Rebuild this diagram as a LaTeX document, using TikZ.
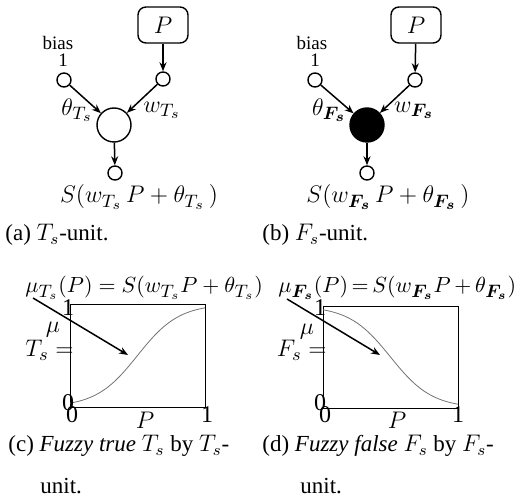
\documentclass[tikz,border=0pt]{standalone}
\usepackage{amsmath}
\usepackage{fontspec}
\setmainfont{Liberation Serif}
\usetikzlibrary{arrows.meta, positioning}
\DeclareMathSizes{12}{12}{9.5}{7}
\DeclareMathSizes{11.5}{11.5}{8.5}{6.5}
\DeclareMathSizes{11}{11}{8.7}{6.4}
\DeclareMathSizes{9.5}{9.5}{7}{5}
\newcommand{\bigfont}{\fontsize{12}{14}\selectfont}
\newcommand{\capfont}{\fontsize{11.5}{14}\selectfont}
\newcommand{\eqfont}{\fontsize{11}{13}\selectfont}
\newcommand{\tagfont}{\fontsize{9.5}{11}\selectfont}

\begin{document}
\begin{tikzpicture}[x=0.5pt, y=-0.5pt,
    dot/.style={circle, draw, line width=0.7pt, minimum size=7pt, inner sep=0pt},
    unit/.style={circle, draw, line width=0.7pt, minimum size=17pt, inner sep=0pt},
    inbox/.style={rectangle, rounded corners=4pt, draw, line width=0.7pt,
                  minimum width=25pt, minimum height=18pt, font=\bigfont},
    ar/.style={-{Stealth[length=4.5pt, width=3.5pt]}, line width=0.75pt},
    frame/.style={draw, line width=0.45pt},
    curve/.style={draw=black!55, line width=0.4pt},
    lbl/.style={inner sep=0pt, font=\bigfont},
    eqtext/.style={inner sep=0pt, anchor=west, font=\eqfont},
    captext/.style={inner sep=0pt, anchor=west, font=\capfont},
    tag/.style={inner sep=0pt, font=\tagfont}
]
\useasboundingbox (0,0) rectangle (519,502);

% (a) T_s-unit
\node[inbox] (pa) at (163,25) {$P$};
\node[dot] (ba) at (64,80) {};
\node[tag] (onea) at (63,60) {1};
\node[tag] (biasa) at (58,43) {bias};
\node[dot] (ia) at (163,79) {};
\node[unit] (ua) at (114,125) {};
\node[dot] (oa) at (115,173) {};
\draw[ar] (pa) -- (ia);
\draw[ar] (ba) -- (ua);
\draw[ar] (ia) -- (ua);
\draw[ar] (ua) -- (oa);
\node[lbl] (tha) at (77,110) {$\theta_{T_s}$};
\node[lbl] (wa) at (162,110) {$w_{T_s}$};
\node[lbl] (sa) at (139,197) {$S(w_{T_s}\,P + \theta_{T_s}\,)$};
\node[captext] (capa) at (5,235) {(a) $T_s$-unit.};

% (b) F_s-unit
\node[inbox] (pb) at (416,25) {$P$};
\node[dot] (bb) at (315,80) {};
\node[tag] (oneb) at (315,60) {1};
\node[tag] (biasb) at (312,43) {bias};
\node[dot] (ib) at (415,80) {};
\node[unit, fill=black] (ub) at (367,125) {};
\node[dot] (ob) at (367,173) {};
\draw[ar] (pb) -- (ib);
\draw[ar] (bb) -- (ub);
\draw[ar] (ib) -- (ub);
\draw[ar] (ub) -- (ob);
\node[lbl] (thb) at (329,110) {$\theta_{\boldsymbol{F_s}}$};
\node[lbl] (wb) at (414,110) {$w_{\boldsymbol{F_s}}$};
\node[lbl] (sb) at (388,197) {$S(w_{\boldsymbol{F_s}}\,P + \theta_{\boldsymbol{F_s}}\,)$};
\node[captext] (capb) at (262,235) {(b) $F_s$-unit.};

% (c) fuzzy true
\draw[frame] (70,304) rectangle (205,407);
\draw[curve] plot[domain=0:1, samples=60, smooth]
    ({70+135*\x}, {407-103/(1+exp(-6.5*(\x-0.5)))});
\node[eqtext] (lc) at (25,288) {$\mu_{T_s}(P) = S(w_{T_s}P + \theta_{T_s})$};
\coordinate (fromc) at (33,298);
\coordinate (toc) at (128,355);
\draw[ar] (fromc) -- (toc);
\node[lbl] (topc) at (68,308) {1};
\node[lbl] (muc) at (53,330) {$\mu$};
\node[lbl, anchor=east] (tsc) at (74,350) {$T_s =$};
\node[lbl] (zyc) at (68,403) {0};
\node[lbl] (zxc) at (72,415) {0};
\node[lbl] (pc) at (145,420) {$P$};
\node[lbl] (rc) at (207,415) {1};
\node[captext] (capc) at (8,446) {(c) \textit{Fuzzy true} $T_s$ by $T_s$-};
\node[captext] (capc2) at (40,486) {unit.};

% (d) fuzzy false
\draw[frame] (323,306) rectangle (458,408);
\draw[curve] plot[domain=0:1, samples=60, smooth]
    ({323+135*\x}, {408-102/(1+exp(6.5*(\x-0.5)))});
\node[eqtext] (ld) at (278,288) {$\thickmuskip=3mu \medmuskip=3mu
    \mu_{\boldsymbol{F_s}}(P) = S(w_{\boldsymbol{F_s}}P + \theta_{\boldsymbol{F_s}})$};
\coordinate (fromd) at (287,299);
\coordinate (tod) at (380,355);
\draw[ar] (fromd) -- (tod);
\node[lbl] (topd) at (320,308) {1};
\node[lbl] (mud) at (307,332) {$\mu$};
\node[lbl, anchor=east] (fsd) at (327,350) {$F_s =$};
\node[lbl] (zyd) at (320,403) {0};
\node[lbl] (zxd) at (325,415) {0};
\node[lbl] (pd) at (397,420) {$P$};
\node[lbl] (rd) at (458,415) {1};
\node[captext] (capd) at (262,446) {(d) \textit{Fuzzy false} $F_s$ by $F_s$-};
\node[captext] (capd2) at (300,486) {unit.};
\end{tikzpicture}
\end{document}
